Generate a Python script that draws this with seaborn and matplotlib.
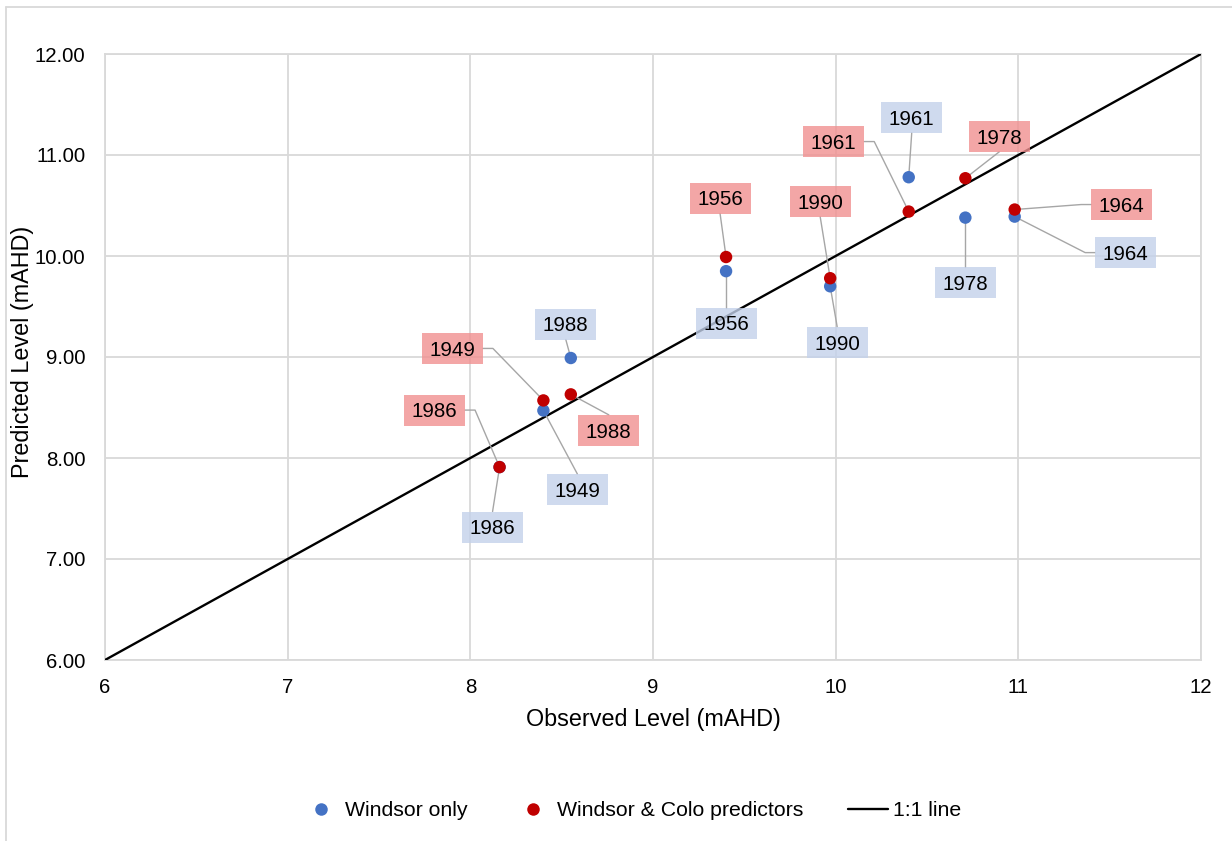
import matplotlib
matplotlib.use("Agg")
import matplotlib.pyplot as plt
import pandas as pd
import seaborn as sns
from matplotlib.lines import Line2D
from matplotlib.patches import Rectangle
from matplotlib.transforms import IdentityTransform

# ---- data -------------------------------------------------------------
years = ["1986", "1949", "1988", "1956", "1990", "1961", "1978", "1964"]
observed = [8.16, 8.40, 8.55, 9.40, 9.97, 10.40, 10.71, 10.98]
pred_windsor = [7.91, 8.47, 8.99, 9.85, 9.70, 10.78, 10.38, 10.39]
pred_windsor_colo = [7.91, 8.57, 8.63, 9.99, 9.78, 10.44, 10.77, 10.46]

series_names = ["Windsor only", "Windsor & Colo predictors"]
one_to_one = [6, 12]
x_ticks = [6, 7, 8, 9, 10, 11, 12]
y_ticks = [6, 7, 8, 9, 10, 11, 12]

# ---- styling ----------------------------------------------------------
series_colors = ["#4472C4", "#C00000"]
label_fills = ["#C3D1EA", "#F19090"]
grid_color = "#D9D9D9"
leader_color = "#A6A6A6"

# label box centre offsets from each point in pixels (+y downward),
# and leader style: "v" = from top/bottom edge, "h" = elbow from side
label_layout = [
    {"1986": (-7, 60, "v"), "1949": (34, 79, "v"), "1988": (-5, -34, "v"),
     "1956": (0, 52, "v"), "1990": (7, 56, "v"), "1961": (3, -60, "v"),
     "1978": (0, 65, "v"), "1964": (111, 36, "h")},
    {"1986": (-65, -57, "h"), "1949": (-91, -52, "h"), "1988": (38, 36, "v"),
     "1956": (-6, -59, "v"), "1990": (-10, -77, "v"), "1961": (-75, -70, "h"),
     "1978": (34, -42, "v"), "1964": (107, -5, "h")},
]
BOX_W, BOX_H, STUB = 61, 31, 10

W, H = 1232, 841
sns.set_style("white")
plt.rcParams["font.family"] = ["Liberation Sans", "DejaVu Sans"]
plt.rcParams["text.color"] = "black"
plt.rcParams["axes.labelcolor"] = "black"
plt.rcParams["xtick.color"] = "black"
plt.rcParams["ytick.color"] = "black"

fig = plt.figure(figsize=(W / 100, H / 100), dpi=100)
ax = fig.add_axes([105 / W, 1 - 660 / H, 1096 / W, 606 / H])

df = pd.DataFrame({
    "Observed": observed + observed,
    "Predicted": pred_windsor + pred_windsor_colo,
    "Series": [series_names[0]] * len(years) + [series_names[1]] * len(years),
    "Year": years + years,
})

sns.scatterplot(data=df, x="Observed", y="Predicted", hue="Series",
                hue_order=series_names, palette=series_colors, s=80,
                linewidth=0, ax=ax, zorder=5, legend=False)
ax.plot(one_to_one, one_to_one, color="black", lw=1.7, zorder=3)

ax.set_xlim(6, 12)
ax.set_ylim(6, 12)
ax.set_xticks(x_ticks)
ax.set_yticks(y_ticks)
ax.set_xticklabels([f"{v:d}" for v in x_ticks])
ax.set_yticklabels([f"{v:.2f}" for v in y_ticks])
ax.tick_params(axis="both", length=0, labelsize=14.7, labelcolor="black")
ax.tick_params(axis="x", pad=13)
ax.tick_params(axis="y", pad=14)
ax.grid(True, color=grid_color, lw=1.3, zorder=0)
ax.set_axisbelow(True)
for sp in ax.spines.values():
    sp.set_color(grid_color)
    sp.set_linewidth(1.3)

ax.set_xlabel("Observed Level (mAHD)", fontsize=16.8, va="center",
              color="black")
ax.set_ylabel("Predicted Level (mAHD)", fontsize=16.8, va="center",
              color="black")
ax.xaxis.set_label_coords(0.5, -0.099)
ax.yaxis.set_label_coords(-0.0757, 0.508)

# ---- data labels with leader lines ------------------------------------
ident = IdentityTransform()
em = 14.6 * 100 / 72
for s_idx, preds in enumerate([pred_windsor, pred_windsor_colo]):
    for yr, xo, yp in zip(years, observed, preds):
        dx, dy, kind = label_layout[s_idx][yr]
        X, Y = ax.transData.transform((xo, yp))
        px, py = X, H - Y
        cx, cy = px + dx, py + dy
        if kind == "v":
            ay = cy - BOX_H / 2 if dy > 0 else cy + BOX_H / 2
            pts = [(cx, ay), (px, py)]
        else:
            ax_ = cx + BOX_W / 2 if dx < 0 else cx - BOX_W / 2
            ex = ax_ + STUB if dx < 0 else ax_ - STUB
            pts = [(ax_, cy), (ex, cy), (px, py)]
        ax.add_line(Line2D([p[0] for p in pts], [H - p[1] for p in pts],
                           color=leader_color, lw=1.0, transform=ident,
                           zorder=4, clip_on=False))
        ax.add_patch(Rectangle((cx - BOX_W / 2, H - (cy + BOX_H / 2)),
                               BOX_W, BOX_H, facecolor=label_fills[s_idx],
                               edgecolor="none", alpha=0.8, transform=ident,
                               zorder=6, clip_on=False))
        ax.text(cx, H - (cy + 0.36 * em), yr, transform=ident, ha="center",
                va="baseline", fontsize=14.8, color="black", zorder=7)

# ---- legend -----------------------------------------------------------
handles = [
    Line2D([], [], marker="o", ls="", color=series_colors[0], markersize=9,
           markeredgewidth=0),
    Line2D([], [], marker="o", ls="", color=series_colors[1], markersize=9,
           markeredgewidth=0),
    Line2D([], [], color="black", lw=1.7),
]
fig.legend(handles, series_names + ["1:1 line"], loc="center",
           bbox_to_anchor=(0.512, 1 - 811 / H), ncol=3, frameon=False,
           fontsize=15.3, handlelength=1.9, handletextpad=0.2,
           columnspacing=2.1, labelcolor="black")

# chart frame
fig.add_artist(Line2D([6 / W, 6 / W], [0, 1 - 7 / H], color=grid_color,
                      lw=1.3, transform=fig.transFigure))
fig.add_artist(Line2D([6 / W, 1], [1 - 7 / H, 1 - 7 / H], color=grid_color,
                      lw=1.3, transform=fig.transFigure))

fig.savefig("out.png", dpi=100)
